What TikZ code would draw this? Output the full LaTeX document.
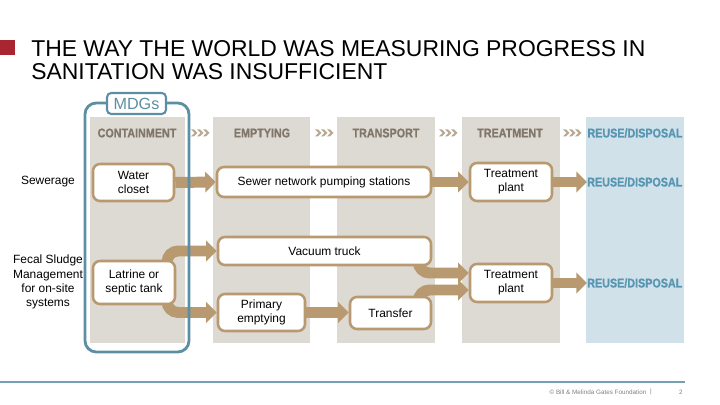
\documentclass[tikz,border=0pt]{standalone}
\usepackage{fontspec}
\setmainfont{Liberation Sans}
\newfontfamily\headfont{Liberation Sans}[FakeStretch=0.85, BoldFeatures={FakeBold=0.8}]
\usepackage{tikz}
\usetikzlibrary{arrows.meta, positioning, calc}
\definecolor{colgray}{RGB}{221,217,211}
\definecolor{colblue}{RGB}{208,225,233}
\definecolor{tanbrown}{RGB}{184,153,112}
\definecolor{mdgblue}{RGB}{92,143,163}
\definecolor{hdrgray}{RGB}{128,118,106}
\definecolor{reuseblue}{RGB}{86,150,178}
\definecolor{titlered}{RGB}{168,38,47}
\definecolor{chevcol}{RGB}{184,170,146}
\pgfdeclarelayer{bg}
\pgfdeclarelayer{flows}
\pgfsetlayers{bg,flows,main}

\begin{document}
\begin{tikzpicture}[x=0.25mm, y=-0.25mm,
    box/.style={draw=tanbrown, line width=1.8pt, rounded corners=5pt, fill=white,
      align=center, inner sep=0pt, font=\fontsize{8.5}{9.8}\selectfont},
    flow/.style={draw=tanbrown, line width=7.8pt, rounded corners=8pt,
      -{Triangle[length=7.5pt, width=14.5pt]}},
    hdr/.style={hdrgray, inner sep=0pt, font=\headfont\bfseries\fontsize{9}{10}\selectfont},
    reuse/.style={reuseblue, inner sep=0pt, font=\headfont\bfseries\fontsize{9}{10}\selectfont},
    lbl/.style={align=center, inner sep=0pt, font=\fontsize{8.5}{10}\selectfont},
    chevs/.pic={
      \foreach \i in {-9,-3,3}
        \fill[chevcol] (\i,-3.5) -- ++(3,0) -- ++(3.5,3.5) -- ++(-3.5,3.5) -- ++(-3,0) -- ++(3.5,-3.5) -- cycle;
    }]
  \useasboundingbox (0,0) rectangle (720,405);

  % Titre
  \fill[titlered] (0,40) rectangle (15,55);
  \node[anchor=base west, inner sep=0pt, font=\fontsize{16.3}{17}\selectfont] (title) at (31,57) {THE WAY THE WORLD WAS MEASURING PROGRESS IN};
  \node[anchor=base west, inner sep=0pt, font=\fontsize{16.3}{17}\selectfont] (title2) at (31,80) {SANITATION WAS INSUFFICIENT};

  % Colonnes
  \begin{pgfonlayer}{bg}
    \fill[colgray] (90,117) rectangle (185,343);
    \fill[colgray] (213,117) rectangle (310,343);
    \fill[colgray] (337,117) rectangle (435,343);
    \fill[colgray] (462,117) rectangle (560,343);
    \fill[colblue] (586,117) rectangle (684,343);
  \end{pgfonlayer}
  \node[hdr] (hcont) at (137,133) {CONTAINMENT};
  \node[hdr] (hempt) at (262,133) {EMPTYING};
  \node[hdr] (htrans) at (386,133) {TRANSPORT};
  \node[hdr] (htreat) at (510,133) {TREATMENT};
  \node[reuse] (hreuse) at (635,133) {REUSE/DISPOSAL};
  \pic (chev1) at (200,133) {chevs};
  \pic (chev2) at (324,133) {chevs};
  \pic (chev3) at (448,133) {chevs};
  \pic (chev4) at (572,133) {chevs};

  % MDGs
  \draw[mdgblue, line width=2pt, rounded corners=8pt] (85,103) rectangle (189,352);
  \node[draw=mdgblue, line width=1.5pt, rounded corners=3pt, fill=white, text=mdgblue,
    minimum width=14.75mm, minimum height=5.25mm, inner sep=0pt,
    font=\fontsize{11.5}{12}\selectfont] (mdgs) at (136.5,103.5) {MDGs};

  % Egouts
  \node[lbl] (sew) at (48,182) {Sewerage};
  \node[box, minimum width=20.25mm, minimum height=9.25mm] (wc) at (133.5,182.5) {Water\\closet};
  \node[box, minimum width=53.5mm, minimum height=7.5mm] (sewer) at (324,182) {Sewer network pumping stations};
  \node[box, minimum width=20.5mm, minimum height=9.5mm] (tp1) at (511,182) {Treatment\\plant};
  \node[reuse, anchor=west] (reuse1) at (587,182) {REUSE/DISPOSAL};

  % Assainissement autonome
  \node[lbl] (fsm) at (48,282) {Fecal Sludge\\Management\\for on-site\\systems};
  \node[box, minimum width=20.5mm, minimum height=10.75mm] (latrine) at (134,282.5) {Latrine or\\septic tank};
  \node[box, minimum width=53.25mm, minimum height=7mm] (vacuum) at (324.5,251) {Vacuum truck};
  \node[box, minimum width=21.75mm, minimum height=9.25mm] (primary) at (261.5,312.5) {Primary\\emptying};
  \node[box, minimum width=20.25mm, minimum height=8mm] (transfer) at (390.5,313) {Transfer};
  \node[box, minimum width=20.5mm, minimum height=9.5mm] (tp2) at (511,283) {Treatment\\plant};
  \node[reuse, anchor=west] (reuse2) at (587,283) {REUSE/DISPOSAL};

  % Fleches
  \begin{pgfonlayer}{flows}
    \draw[flow] (wc.east) -- (sewer.west);
    \draw[flow] (sewer.east) -- (tp1.west);
    \draw[flow] (tp1.east) -- (reuse1.west);
    \draw[flow] ($(latrine.center)+(33,-10)$) |- (vacuum.west);
    \draw[flow] ($(latrine.center)+(33,10)$) |- (primary.west);
    \draw[flow] (primary.east) -- (primary.east -| transfer.west);
    \draw[flow] ($(vacuum.south east)+(-14,-5)$) |- ($(tp2.west)+(0,-10)$);
    \draw[flow] ($(transfer.north east)+(-14,5)$) |- ($(tp2.west)+(0,7)$);
    \draw[flow] (tp2.east) -- (reuse2.west);
  \end{pgfonlayer}

  % Pied de page
  \draw[mdgblue!85, line width=0.8pt] (0,382) -- (685,382);
  \node[gray, inner sep=0pt, font=\fontsize{4.5}{5}\selectfont] (foot) at (598,392) {© Bill \& Melinda Gates Foundation};
  \node[gray, inner sep=0pt, font=\fontsize{4.5}{5}\selectfont] (bar) at (651,392) {|};
  \node[gray, inner sep=0pt, font=\fontsize{4.5}{5}\selectfont] (pageno) at (681,392) {2};
\end{tikzpicture}
\end{document}
